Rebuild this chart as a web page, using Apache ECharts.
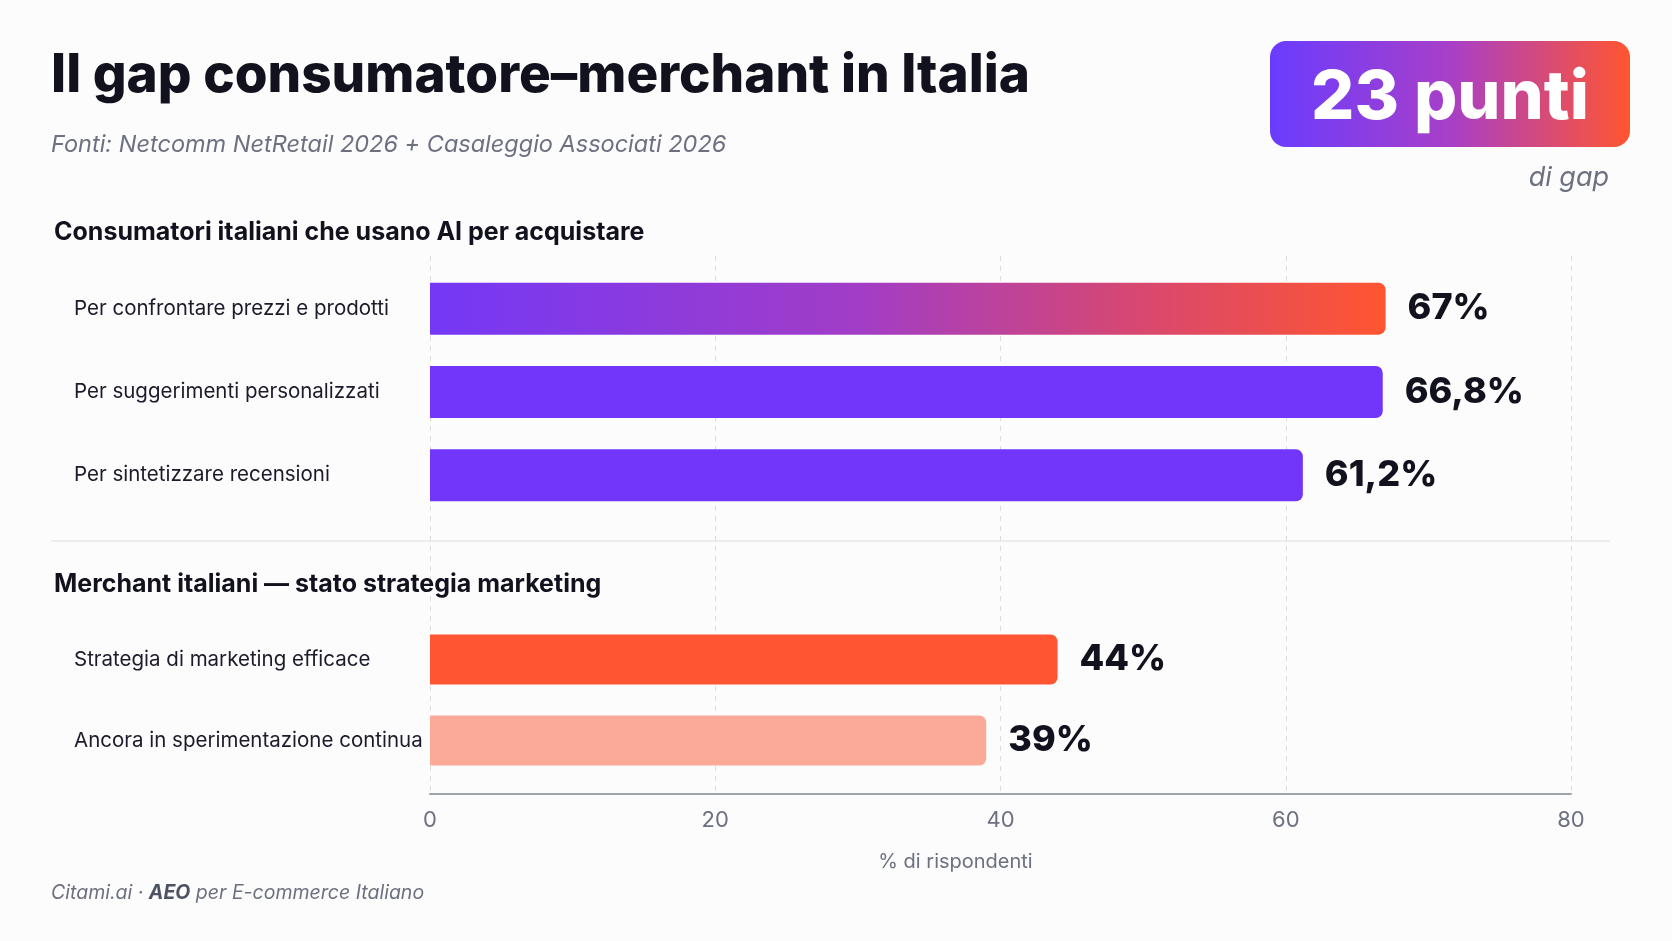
<!DOCTYPE html>
<html>
<head>
<meta charset="utf-8">
<title>Il gap consumatore-merchant in Italia</title>
<script src="https://cdn.jsdelivr.net/npm/echarts@6/dist/echarts.min.js"></script>
<style>
  html, body { margin: 0; padding: 0; background: #fcfcfc; }
  #chart { width: 1672px; height: 941px; }
</style>
</head>
<body>
<div id="chart"></div>
<script>
// data
const consumerCats = ['Per confrontare prezzi e prodotti', 'Per suggerimenti personalizzati', 'Per sintetizzare recensioni'];
const consumerVals = [67, 66.8, 61.2];
const merchantCats = ['Strategia di marketing efficace', 'Ancora in sperimentazione continua'];
const merchantVals = [44, 39];
const xTicks = [0, 20, 40, 60, 80];

const FONT = 'Inter, "Noto Sans", sans-serif';
const DARK = '#12121f';
const GRAY = '#6c7080';

const consumerColors = [
  { type: 'linear', x: 0, y: 0, x2: 1, y2: 0,
    colorStops: [{ offset: 0, color: '#7438f6' }, { offset: 0.45, color: '#a23dc6' }, { offset: 0.75, color: '#d9486e' }, { offset: 1, color: '#ff5530' }] },
  '#7236fb',
  '#7236fb'
];
const merchantColors = ['#ff5533', '#fcaa98'];

const fmt = v => String(v).replace('.', ',') + '%';

const chart = echarts.init(document.getElementById('chart'));

const valueLabel = {
  show: true,
  position: 'right',
  distance: 22,
  fontFamily: FONT,
  fontWeight: 800,
  fontSize: 36,
  color: DARK,
  formatter: p => fmt(p.value)
};

const catAxisLabel = {
  align: 'left',
  margin: 356,
  fontFamily: FONT,
  fontSize: 20.5,
  color: '#1b1b2b'
};

chart.setOption({
  backgroundColor: '#fcfcfc',
  animation: false,
  title: [
    { text: 'Il gap consumatore–merchant in Italia', left: 46, top: 45,
      textStyle: { fontFamily: FONT, fontWeight: 800, fontSize: 53, color: DARK } },
    { text: 'Fonti: Netcomm NetRetail 2026 + Casaleggio Associati 2026', left: 46, top: 128,
      textStyle: { fontFamily: FONT, fontStyle: 'italic', fontWeight: 400, fontSize: 23.5, color: GRAY } },
    { text: 'Consumatori italiani che usano AI per acquistare', left: 49, top: 215,
      textStyle: { fontFamily: FONT, fontWeight: 700, fontSize: 25, color: DARK } },
    { text: 'Merchant italiani — stato strategia marketing', left: 49, top: 567,
      textStyle: { fontFamily: FONT, fontWeight: 700, fontSize: 25, color: DARK } }
  ],
  graphic: [
    { type: 'rect', left: 1270, top: 41, shape: { width: 360, height: 106, r: 16 },
      style: { fill: { type: 'linear', x: 0, y: 0, x2: 1, y2: 0,
        colorStops: [{ offset: 0, color: '#6a3cff' }, { offset: 0.5, color: '#a83fc8' }, { offset: 1, color: '#ff5530' }] } } },
    { type: 'text', x: 1450, y: 99,
      style: { text: '23 punti', fontFamily: FONT, fontWeight: 800, fontSize: 68, fill: '#ffffff', align: 'center', verticalAlign: 'middle' } },
    { type: 'text', x: 1609, y: 178,
      style: { text: 'di gap', fontFamily: FONT, fontStyle: 'italic', fontSize: 27, fill: GRAY, align: 'right', verticalAlign: 'middle' } },
    { type: 'line', shape: { x1: 51, y1: 541, x2: 1610, y2: 541 },
      style: { stroke: '#e8e8e8', lineWidth: 1.5 } },
    { type: 'text', x: 51, y: 893,
      style: { rich: {
          n: { fontFamily: FONT, fontStyle: 'italic', fontSize: 19.5, fill: GRAY },
          b: { fontFamily: FONT, fontStyle: 'italic', fontWeight: 700, fontSize: 19.5, fill: '#4d5263' }
        },
        text: '{n|Citami.ai · }{b|AEO}{n| per E-commerce Italiano}', verticalAlign: 'middle' } }
  ],
  grid: [
    { left: 430, right: 101, top: 256, bottom: 147 },
    { left: 430, right: 101, top: 267, height: 250 },
    { left: 430, right: 101, top: 619, height: 162 }
  ],
  xAxis: [
    { gridIndex: 0, type: 'value', min: 0, max: 80, interval: 20,
      axisLine: { show: true, lineStyle: { color: '#9da2ab', width: 2 } },
      axisTick: { show: false },
      axisLabel: { margin: 15, fontFamily: FONT, fontSize: 22, color: GRAY,
        formatter: v => xTicks.includes(v) ? String(v) : '' },
      splitLine: { show: true, lineStyle: { type: [5, 5], color: '#dcdcdc', width: 1 } },
      name: '% di rispondenti', nameLocation: 'middle', nameGap: 58,
      nameTextStyle: { fontFamily: FONT, fontSize: 20, color: GRAY, padding: [0, 90, 0, 0] } },
    { gridIndex: 1, type: 'value', min: 0, max: 80, show: false },
    { gridIndex: 2, type: 'value', min: 0, max: 80, show: false }
  ],
  yAxis: [
    { gridIndex: 0, type: 'value', show: false },
    { gridIndex: 1, type: 'category', inverse: true, data: consumerCats,
      axisLine: { show: false }, axisTick: { show: false }, splitLine: { show: false },
      axisLabel: catAxisLabel },
    { gridIndex: 2, type: 'category', inverse: true, data: merchantCats,
      axisLine: { show: false }, axisTick: { show: false }, splitLine: { show: false },
      axisLabel: catAxisLabel }
  ],
  series: [
    { type: 'bar', xAxisIndex: 1, yAxisIndex: 1, barWidth: 52,
      data: consumerVals.map((v, i) => ({ value: v, itemStyle: { color: consumerColors[i] } })),
      itemStyle: { borderRadius: [0, 7, 7, 0] },
      label: valueLabel },
    { type: 'bar', xAxisIndex: 2, yAxisIndex: 2, barWidth: 50,
      data: merchantVals.map((v, i) => ({ value: v, itemStyle: { color: merchantColors[i] } })),
      itemStyle: { borderRadius: [0, 7, 7, 0] },
      label: valueLabel }
  ]
});
</script>
</body>
</html>
